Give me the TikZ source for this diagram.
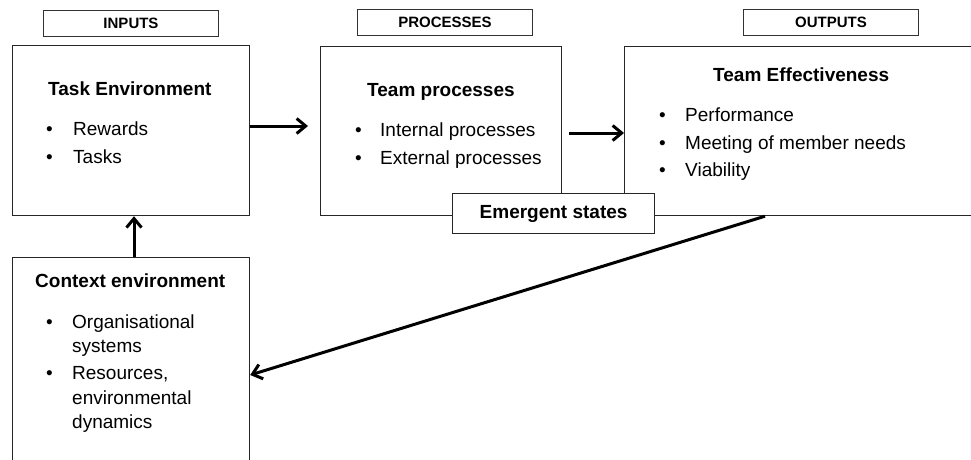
\documentclass[tikz,border=0pt]{standalone}
\usepackage{fontspec}
\setmainfont{Liberation Sans}
\usetikzlibrary{arrows.meta}

\begin{document}
\begin{tikzpicture}[x=1pt,y=-1pt,
  box/.style={draw=black!85, line width=1.2pt, fill=white, inner sep=0pt, anchor=north west},
  hdr/.style={draw=black!80, line width=1pt, fill=white, inner sep=0pt, anchor=north west,
              minimum width=175pt, minimum height=26pt,
              font=\fontsize{15}{18}\selectfont\bfseries},
  txt/.style={inner sep=0pt, anchor=base west, font=\fontsize{19}{23}\selectfont},
  ttl/.style={txt, font=\fontsize{19}{23}\selectfont\bfseries},
  arr/.style={line width=3pt, -{Straight Barb[length=9pt,width=15pt]}}
]
\useasboundingbox (0,0) rectangle (971,459);
\clip (0,0) rectangle (971,459);

% column headers
\node[hdr] (hin)  at (43,10) {INPUTS};
\node[hdr] (hpr)  at (357,9) {PROCESSES};
\node[hdr] (hout) at (743,9) {OUTPUTS};

% main boxes
\node[box, minimum width=237pt, minimum height=170pt] (task) at (12,45) {};
\node[box, minimum width=241pt, minimum height=169pt] (team) at (320,46) {};
\node[box, minimum width=420pt, minimum height=169pt] (eff)  at (624,46) {};
\node[box, minimum width=237pt, minimum height=260pt] (ctx)  at (12,257) {};
\node[box, minimum width=202pt, minimum height=40pt, font=\fontsize{19}{23}\selectfont\bfseries]
  (emg) at (452,193) {Emergent states};

% task environment
\node[ttl] (taskT) at (48,95) {Task Environment};
\node[txt] (taskB1) at (46,135) {•};
\node[txt] (taskL1) at (73,135) {Rewards};
\node[txt] (taskB2) at (46,163) {•};
\node[txt] (taskL2) at (73,163) {Tasks};

% team processes
\node[ttl] (teamT) at (367,96.5) {Team processes};
\node[txt] (teamB1) at (355,136) {•};
\node[txt] (teamL1) at (380,136) {Internal processes};
\node[txt] (teamB2) at (355,164) {•};
\node[txt] (teamL2) at (380,164) {External processes};

% team effectiveness
\node[ttl] (effT) at (713,81) {Team Effectiveness};
\node[txt] (effB1) at (659,121.5) {•};
\node[txt] (effL1) at (685,121.5) {Performance};
\node[txt] (effB2) at (659,149) {•};
\node[txt] (effL2) at (685,149) {Meeting of member needs};
\node[txt] (effB3) at (659,176) {•};
\node[txt] (effL3) at (685,176) {Viability};

% context environment
\node[ttl] (ctxT) at (35,287) {Context environment};
\node[txt] (ctxB1) at (46,328) {•};
\node[txt] (ctxL1) at (72,328) {Organisational};
\node[txt] (ctxL2) at (72,352) {systems};
\node[txt] (ctxB2) at (46,379) {•};
\node[txt] (ctxL3) at (72,379) {Resources,};
\node[txt] (ctxL4) at (72,404) {environmental};
\node[txt] (ctxL5) at (72,428) {dynamics};

% connectors
\coordinate (a1) at (308,126);
\draw[arr] (task.east |- a1) -- (a1);
\coordinate (a2) at (569,133);
\draw[arr] (a2) -- (eff.west |- a2);
\draw[arr] (ctx.north -| 134,0) -- (task.south -| 134,0);
\draw[arr] (eff.south -| 765,0) -- (ctx.east |- 0,375);
\end{tikzpicture}
\end{document}
